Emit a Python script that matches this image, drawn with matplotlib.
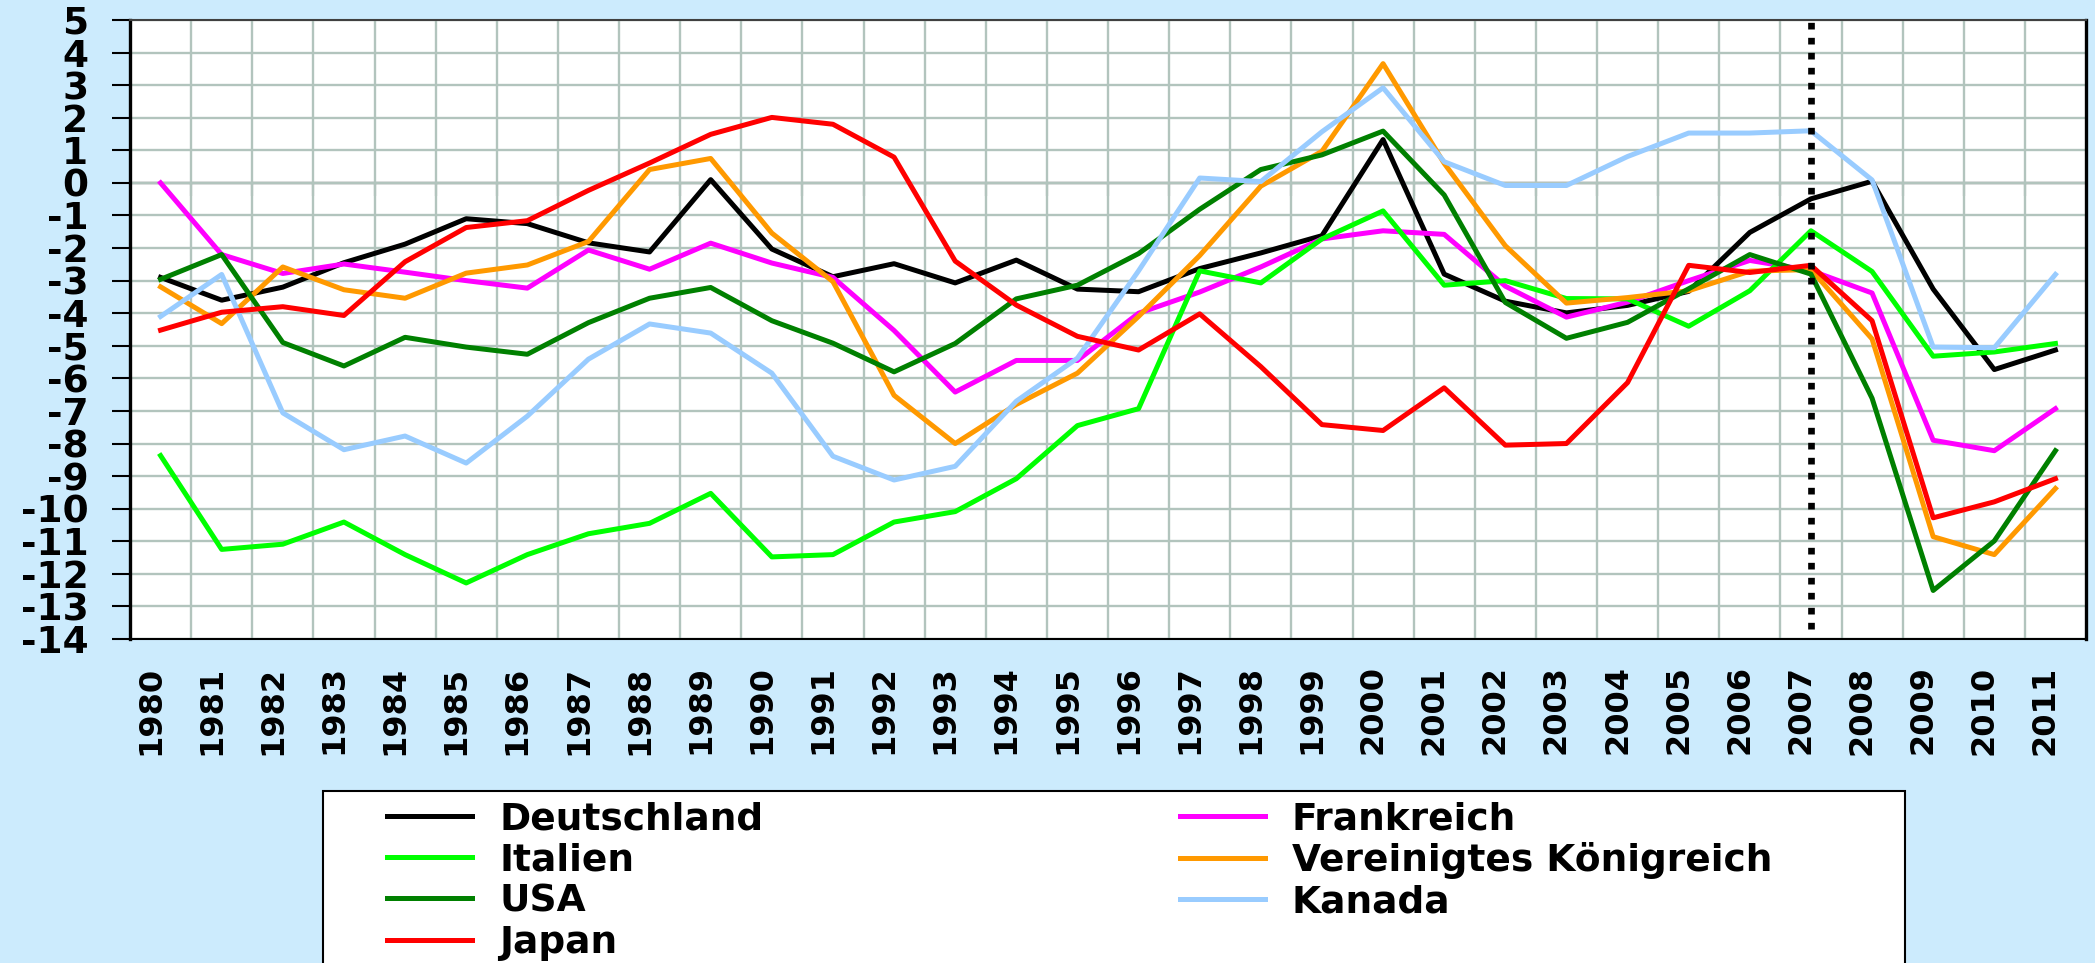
#!/usr/bin/env python3
"""Budget balance (% of GDP) of the G7 countries, 1980-2011, as an Excel-style line chart."""
import matplotlib

matplotlib.use("Agg")

import matplotlib.pyplot as plt  # noqa: E402
import numpy as np  # noqa: E402
from matplotlib.patches import Rectangle  # noqa: E402
from matplotlib.transforms import ScaledTranslation  # noqa: E402

YEARS = list(range(1980, 2012))

DEUTSCHLAND = [-2.9, -3.6, -3.2, -2.45, -1.88, -1.1, -1.25, -1.84, -2.12, 0.1,
               -2.03, -2.88, -2.48, -3.07, -2.37, -3.26, -3.34, -2.63, -2.15, -1.62,
               1.33, -2.8, -3.63, -3.99, -3.76, -3.33, -1.52, -0.49, 0.05, -3.26,
               -5.73, -5.13]
ITALIEN = [-8.37, -11.25, -11.09, -10.41, -11.41, -12.28, -11.41, -10.77, -10.45, -9.53,
           -11.48, -11.41, -10.41, -10.09, -9.08, -7.45, -6.93, -2.7, -3.07, -1.72,
           -0.86, -3.14, -3.0, -3.55, -3.56, -4.4, -3.31, -1.47, -2.72, -5.32,
           -5.19, -4.93]
USA = [-2.96, -2.2, -4.9, -5.62, -4.74, -5.04, -5.26, -4.29, -3.54, -3.21,
       -4.23, -4.92, -5.8, -4.93, -3.56, -3.14, -2.17, -0.81, 0.41, 0.86,
       1.59, -0.37, -3.67, -4.77, -4.28, -3.25, -2.2, -2.8, -6.61, -12.51,
       -10.99, -8.22]
JAPAN = [-4.52, -3.97, -3.8, -4.07, -2.42, -1.37, -1.16, -0.23, 0.61, 1.49,
         2.01, 1.8, 0.79, -2.4, -3.75, -4.71, -5.13, -4.02, -5.64, -7.42,
         -7.6, -6.29, -8.05, -8.0, -6.13, -2.53, -2.75, -2.53, -4.23, -10.28,
         -9.79, -9.08]
FRANKREICH = [0.0, -2.2, -2.78, -2.49, -2.74, -3.0, -3.23, -2.06, -2.65, -1.85,
              -2.46, -2.9, -4.53, -6.42, -5.45, -5.45, -4.0, -3.35, -2.58, -1.72,
              -1.47, -1.58, -3.17, -4.12, -3.66, -3.0, -2.38, -2.69, -3.38, -7.9,
              -8.22, -6.93]
VEREINIGTES_KOENIGREICH = [-3.19, -4.32, -2.58, -3.28, -3.54, -2.77, -2.52, -1.8, 0.41, 0.75,
                           -1.54, -3.03, -6.52, -8.0, -6.8, -5.84, -4.1, -2.23, -0.1, 0.97,
                           3.66, 0.6, -1.93, -3.69, -3.52, -3.31, -2.71, -2.66, -4.79, -10.86,
                           -11.41, -9.38]
KANADA = [-4.1, -2.81, -7.06, -8.19, -7.77, -8.6, -7.16, -5.41, -4.33, -4.61,
          -5.84, -8.39, -9.12, -8.7, -6.7, -5.38, -2.7, 0.15, 0.04, 1.57,
          2.92, 0.65, -0.08, -0.08, 0.81, 1.53, 1.53, 1.6, 0.09, -5.04,
          -5.06, -2.81]

# (label, values, colour) in Excel series order -> later series draw on top
SERIES = [
    ("Deutschland", DEUTSCHLAND, "#000000"),
    ("Frankreich", FRANKREICH, "#FF00FF"),
    ("Italien", ITALIEN, "#00FF00"),
    ("Vereinigtes Königreich", VEREINIGTES_KOENIGREICH, "#FF9900"),
    ("USA", USA, "#008000"),
    ("Kanada", KANADA, "#99CCFF"),
    ("Japan", JAPAN, "#FF0000"),
]
LEGEND_ORDER = ["Deutschland", "Italien", "USA", "Japan",
                "Frankreich", "Vereinigtes Königreich", "Kanada"]

Y_MIN, Y_MAX = -14, 5
DIVIDER_YEAR = 2007
DIVIDER_BOTTOM = -13.7

BG = "#CCEBFD"
GRID = "#B2C4BD"
W, H = 2095, 963


def main():
    plt.rcParams["font.family"] = ["DejaVu Sans"]
    fig = plt.figure(figsize=(W / 100, H / 100), dpi=100, facecolor=BG)
    ax = fig.add_axes((130 / W, 1 - 639 / H, (2086 - 130) / W, (639 - 20) / H))
    ax.set_facecolor("white")

    x = np.arange(len(YEARS))
    handles = {}
    for label, vals, color in SERIES:
        (ln,) = ax.plot(x, vals, color=color, lw=3.6, label=label, zorder=3)
        handles[label] = ln

    ax.set_xlim(-0.5, len(YEARS) - 0.5)
    ax.set_ylim(Y_MIN, Y_MAX)

    # category gridlines between years, value gridlines at every integer
    ax.set_xticks(x)
    ax.set_xticks(x[:-1] + 0.5, minor=True)
    ax.set_yticks(np.arange(Y_MIN, Y_MAX + 1))
    ax.grid(axis="x", which="minor", color=GRID, lw=1.7)
    ax.grid(axis="y", which="major", color=GRID, lw=1.7)
    ax.set_axisbelow(True)

    ax.set_xticklabels([str(y) for y in YEARS], rotation=90,
                       fontsize=23, fontweight="bold")
    ax.tick_params(axis="x", which="both", length=0, pad=19)
    shift = ScaledTranslation(-10 / 100, 0, fig.dpi_scale_trans)
    for lab in ax.get_xticklabels():
        lab.set_transform(lab.get_transform() + shift)

    ax.set_yticklabels([str(v) for v in range(Y_MIN, Y_MAX + 1)],
                       fontsize=27, fontweight="bold")
    ax.tick_params(axis="y", length=13, width=1.5, pad=17, direction="out")

    for side, lw, col in (("left", 2.4, "black"), ("right", 2.4, "black"),
                          ("bottom", 1.5, "black"), ("top", 1.5, "#404040")):
        ax.spines[side].set_linewidth(lw)
        ax.spines[side].set_color(col)

    # zero line with tick marks at the category boundaries (Excel category axis)
    zax = ax.secondary_xaxis(0, transform=ax.transData)
    zax.set_xticks(x[:-1] + 0.5)
    zax.tick_params(length=9, width=1.5, direction="out", labelbottom=False)
    zax.spines["bottom"].set_linewidth(1.6)

    # dotted marker for the last year before the crisis
    ax.axvline(YEARS.index(DIVIDER_YEAR),
               ymin=(DIVIDER_BOTTOM - Y_MIN) / (Y_MAX - Y_MIN), ymax=1,
               color="black", lw=4.8, linestyle=(0, (1, 1.25)),
               dash_capstyle="butt", zorder=4)

    # legend box (runs off the bottom edge in the original)
    fig.add_artist(Rectangle((323 / W, -0.05), (1905 - 323) / W, 1 - 791 / H + 0.05,
                             transform=fig.transFigure, facecolor="white",
                             edgecolor="black", lw=1.5, zorder=1))
    fig.legend([handles[k] for k in LEGEND_ORDER], LEGEND_ORDER,
               loc="upper left", bbox_to_anchor=(387 / W, 1 - 801 / H), ncol=2,
               frameon=False, borderpad=0, borderaxespad=0,
               handlelength=2.27, handletextpad=0.72, columnspacing=11.1,
               labelspacing=0.14,
               prop=dict(family="DejaVu Sans", weight="bold", size=27))

    fig.savefig("out.png", dpi=100, facecolor=BG)
    plt.close(fig)


if __name__ == "__main__":
    main()
